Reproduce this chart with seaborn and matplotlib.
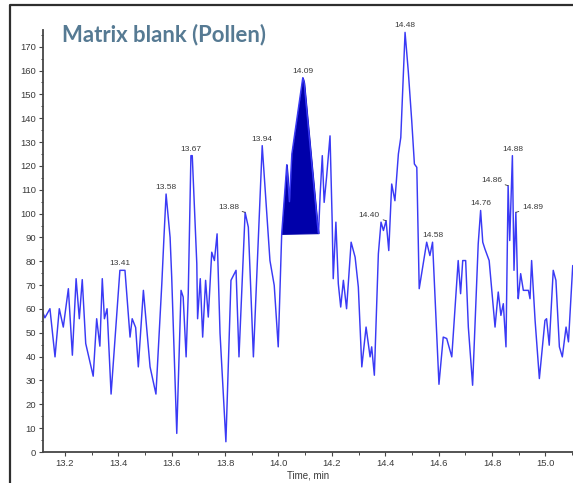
import numpy as np
import pandas as pd
import matplotlib
matplotlib.use("Agg")
import matplotlib.pyplot as plt
from matplotlib.lines import Line2D
from matplotlib.ticker import MultipleLocator
import seaborn as sns

# Extracted ion chromatogram of the pollen matrix blank
time_min = [
    13.117, 13.125, 13.144, 13.163, 13.179, 13.194, 13.213, 13.228, 13.242, 13.254,
    13.265, 13.278, 13.306, 13.319, 13.331, 13.340, 13.348, 13.358, 13.373, 13.406,
    13.425, 13.444, 13.452, 13.465, 13.475, 13.494, 13.519, 13.541, 13.563, 13.571,
    13.579, 13.594, 13.600, 13.619, 13.635, 13.643, 13.654, 13.662, 13.672, 13.677,
    13.694, 13.697, 13.707, 13.716, 13.727, 13.737, 13.750, 13.760, 13.770, 13.781,
    13.803, 13.822, 13.841, 13.852, 13.875, 13.887, 13.906, 13.939, 13.968, 13.984,
    13.999, 14.012, 14.031, 14.041, 14.050, 14.091, 14.096, 14.146, 14.150, 14.156,
    14.164, 14.171, 14.180, 14.193, 14.201, 14.205, 14.215, 14.224, 14.233, 14.243,
    14.255, 14.272, 14.287, 14.299, 14.312, 14.328, 14.343, 14.349, 14.359, 14.374,
    14.384, 14.393, 14.403, 14.413, 14.424, 14.436, 14.449, 14.458, 14.474, 14.486,
    14.499, 14.509, 14.518, 14.527, 14.555, 14.567, 14.577, 14.590, 14.601, 14.617,
    14.630, 14.649, 14.673, 14.682, 14.690, 14.701, 14.711, 14.727, 14.748, 14.757,
    14.765, 14.773, 14.789, 14.811, 14.823, 14.833, 14.842, 14.852, 14.860, 14.866,
    14.876, 14.882, 14.889, 14.896, 14.898, 14.907, 14.917, 14.936, 14.942, 14.948,
    14.961, 14.977, 14.998, 15.004, 15.014, 15.029, 15.039, 15.052, 15.063, 15.077,
    15.086, 15.102,
]
intensity = [
    58.7, 56.3, 60.1, 39.9, 60.1, 52.4, 68.5, 40.6, 72.7, 55.9,
    72.3, 45.5, 31.8, 55.9, 44.4, 72.7, 55.9, 60.1, 24.3, 76.2,
    76.2, 48.2, 55.9, 52.2, 35.7, 67.8, 35.7, 24.3, 70.6, 90.0,
    108.2, 90.0, 73.4, 7.8, 67.8, 65.0, 39.9, 66.4, 124.3, 124.3,
    79.0, 55.9, 72.7, 48.2, 72.0, 56.6, 83.8, 80.3, 91.5, 49.8,
    4.3, 72.0, 76.2, 39.9, 100.5, 94.3, 39.9, 128.5, 80.3, 69.9,
    44.1, 91.5, 120.5, 105.0, 125.0, 157.0, 155.0, 95.5, 91.8, 108.0,
    124.3, 104.7, 115.2, 132.6, 97.0, 72.7, 96.4, 70.6, 60.8, 72.0,
    60.1, 88.0, 81.7, 69.2, 35.7, 52.4, 39.9, 44.1, 32.2, 83.1,
    96.4, 92.9, 97.0, 84.5, 112.4, 105.4, 125.0, 131.9, 176.0, 159.8,
    138.9, 120.8, 119.4, 68.5, 88.0, 82.4, 88.0, 55.2, 28.4, 48.2,
    47.6, 39.9, 80.3, 66.4, 80.3, 80.3, 52.4, 28.0, 87.3, 101.3,
    88.0, 85.2, 80.3, 52.4, 67.1, 57.3, 62.2, 44.1, 111.7, 88.7,
    124.3, 76.2, 100.5, 67.8, 64.3, 74.8, 67.8, 67.8, 64.3, 80.3,
    55.2, 30.8, 55.2, 55.9, 44.8, 76.2, 72.0, 44.1, 39.9, 52.4,
    46.2, 78.2,
]

# Integrated peak window (start / end retention time)
integration_window = [14.012, 14.150]

# Labelled apex retention times
peak_labels = ["13.41", "13.58", "13.67", "13.88", "13.94", "14.09", "14.40",
               "14.48", "14.58", "14.76", "14.86", "14.88", "14.89"]
# label placement: "top" = centred above apex, "left"/"right" = offset with leader
label_side = ["top", "top", "top", "left", "top", "top", "left",
              "top", "top", "top", "left", "top", "right"]

title_text = "Matrix blank (Pollen)"
xlabel_text = "Time, min"

df = pd.DataFrame({"time": time_min, "intensity": intensity})

W, H, DPI = 573, 483, 100
fig = plt.figure(figsize=(W / DPI, H / DPI), dpi=DPI)
sns.set_style("ticks")
plt.rcParams["font.family"] = ["Liberation Sans", "DejaVu Sans"]

ax = fig.add_axes([43 / W, 1 - 452 / H, 1 - 43 / W, (452 - 30) / H])

line_color = "#3a3af5"
fill_color = "#0000aa"
text_color = "#3a3a3a"
axis_color = "#454545"

sns.lineplot(data=df, x="time", y="intensity", ax=ax, color=line_color,
             linewidth=1.05, estimator=None, sort=False)

# Shaded integrated area between the trace and the drawn baseline
t = np.asarray(time_min)
y = np.asarray(intensity)
t0, t1 = integration_window
mask = (t >= t0) & (t <= t1)
base = np.interp(t[mask], [t0, t1], [np.interp(t0, t, y), np.interp(t1, t, y)])
ax.fill_between(t[mask], base, y[mask], color=fill_color, linewidth=0.8,
                edgecolor=fill_color)

ax.set_xlim(13.118, 15.103)
ax.set_ylim(0, 177)
ax.xaxis.set_major_locator(MultipleLocator(0.2))
ax.xaxis.set_minor_locator(MultipleLocator(0.1))
ax.yaxis.set_major_locator(MultipleLocator(10))
ax.yaxis.set_minor_locator(MultipleLocator(5))
ax.xaxis.set_major_formatter(matplotlib.ticker.FormatStrFormatter("%.1f"))

for side in ("top", "right"):
    ax.spines[side].set_visible(False)
for side in ("left", "bottom"):
    ax.spines[side].set_color(axis_color)
    ax.spines[side].set_linewidth(1.3)

ax.tick_params(axis="both", which="major", length=3.2, width=0.8,
               color=axis_color, labelsize=6.8, labelcolor=text_color, pad=1.8)
ax.tick_params(axis="both", which="minor", length=1.8, width=0.7, color=axis_color)
ax.set_xlabel(xlabel_text, fontsize=7, color=text_color, labelpad=2)
ax.set_ylabel("")

# Apex labels
half = 0.008
for lab, side in zip(peak_labels, label_side):
    rt = float(lab)
    win = (t >= rt - half) & (t <= rt + half)
    idx = np.where(win)[0][np.argmax(y[win])]
    px, py = t[idx], y[idx]
    if side == "top":
        ax.annotate(lab, (px, py), xytext=(0, 2.2), textcoords="offset points",
                    ha="center", va="bottom", fontsize=6, color=text_color)
    elif side == "left":
        ax.annotate(lab, (px, py), xytext=(-4.5, 3.8), textcoords="offset points",
                    ha="right", va="center", fontsize=6, color=text_color,
                    arrowprops=dict(arrowstyle="-", color=text_color, lw=0.6,
                                    shrinkA=0, shrinkB=0))
    else:
        ax.annotate(lab, (px, py), xytext=(4.5, 3.8), textcoords="offset points",
                    ha="left", va="center", fontsize=6, color=text_color,
                    arrowprops=dict(arrowstyle="-", color=text_color, lw=0.6,
                                    shrinkA=0, shrinkB=0))

# Panel title
fig.text(62 / W, 1 - 41.5 / H, title_text, fontsize=15.9, fontweight="bold",
         color="#567a93", family=["Lato", "DejaVu Sans"], va="baseline", ha="left")

# Panel frame
fx, fy = 10 / W, 1 - 5 / H
fig.add_artist(Line2D([fx, fx, 1.0], [0.0, fy, fy], transform=fig.transFigure,
                      color="#2e2e2e", linewidth=1.6))

fig.savefig("out.png", dpi=DPI)
